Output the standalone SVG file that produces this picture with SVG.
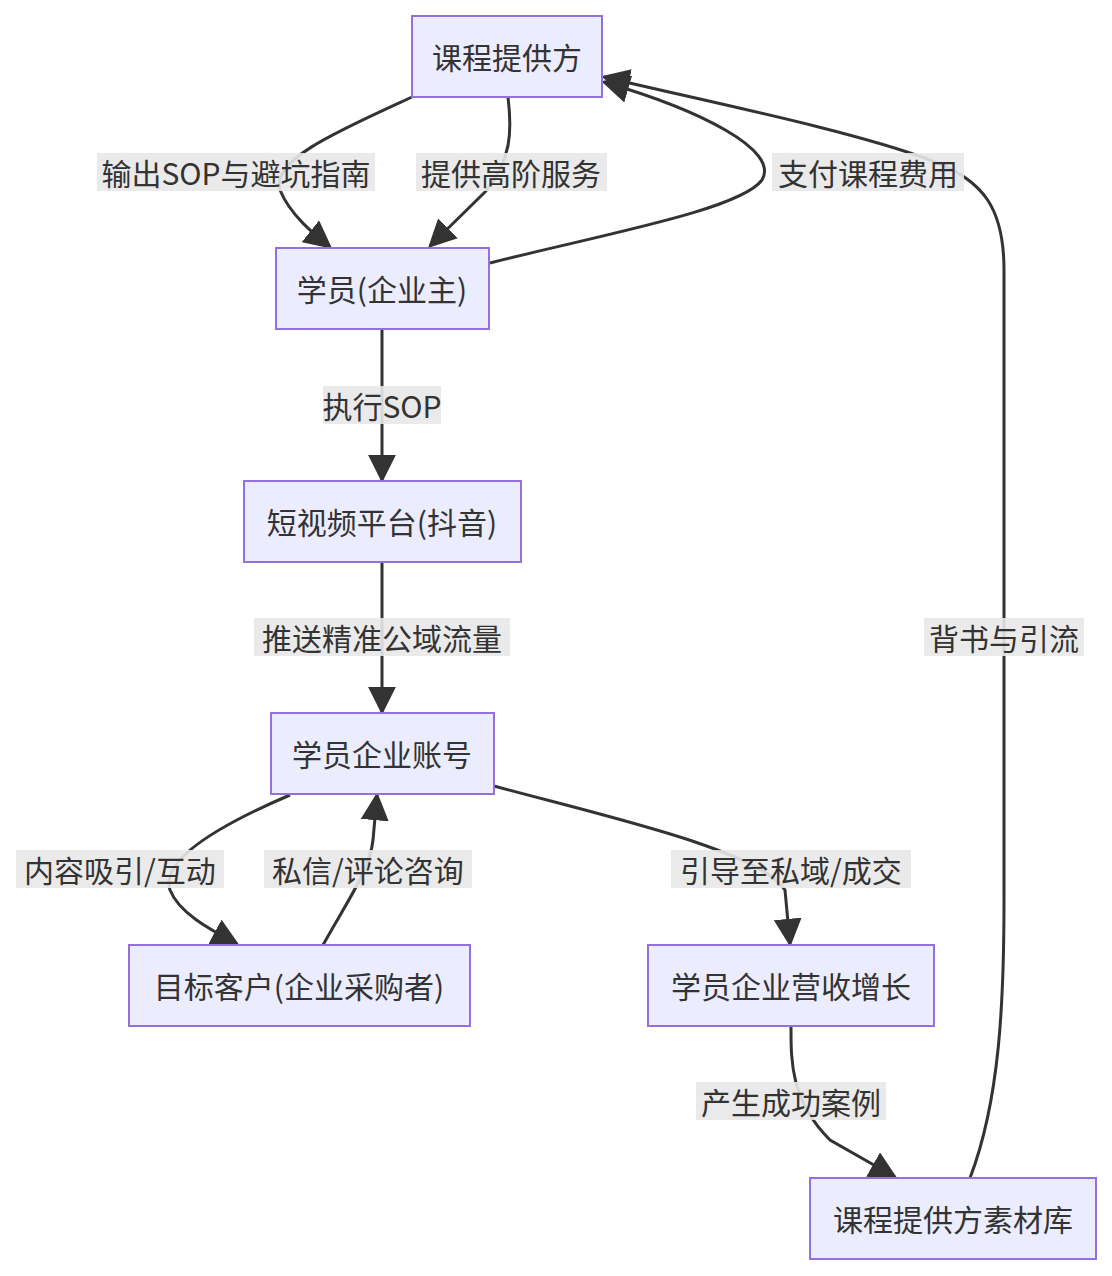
<svg xmlns="http://www.w3.org/2000/svg" width="1112" height="1276" viewBox="0 0 1112 1276">
<style>
.n rect{fill:#ECECFF;stroke:#9370DB;stroke-width:2}
.n text,.l text{font-family:"Noto Sans CJK SC","Noto Sans",sans-serif;font-size:30px;fill:#333;text-anchor:middle;dominant-baseline:central}
.e path{fill:none;stroke:#333;stroke-width:3}
.l rect{fill:#e8e8e8;opacity:0.9}
</style>
<defs><marker id="a" viewBox="0 0 10 10" refX="8" refY="5" markerWidth="9" markerHeight="9" markerUnits="userSpaceOnUse" orient="auto"><path d="M0,0L10,5L0,10z" fill="#333"/></marker>
<marker id="b" viewBox="0 0 10 10" refX="9" refY="5" markerWidth="28" markerHeight="28" markerUnits="userSpaceOnUse" orient="auto"><path d="M0,0L10,5L0,10z" fill="#333"/></marker></defs>
<rect width="1112" height="1276" fill="#fff"/>
<g class="e">
<path marker-end="url(#b)" d="M412,97 C340,130 270,160 280,190 C290,215 315,235 330,247"/>
<path marker-end="url(#b)" d="M508,97 C512,130 512,160 485,192 L430,246"/>
<path marker-end="url(#b)" d="M490,263 C600,235 740,210 762,180 C780,150 700,110 604,82"/>
<path marker-end="url(#b)" d="M970,1178 C1000,1100 1004,1000 1004,900 L1004,270 C1004,210 985,180 930,160 C850,130 700,100 604,77"/>
<path marker-end="url(#b)" d="M382,329 L382,480"/>
<path marker-end="url(#b)" d="M382,562 L382,712"/>
<path marker-end="url(#b)" d="M290,795 C220,825 160,860 170,890 C180,915 215,932 237,944"/>
<path marker-end="url(#b)" d="M323,945 C345,905 370,870 373,840 L377,795"/>
<path marker-end="url(#b)" d="M494,786 C600,815 760,850 785,890 L790,944"/>
<path marker-end="url(#b)" d="M791,1026 C791,1060 790,1100 830,1140 L895,1177"/>
</g>
<g class="l">
<rect x="97" y="153" width="278" height="38"/><text x="236" y="172">输出SOP与避坑指南</text>
<rect x="416" y="153" width="191" height="38"/><text x="511" y="172">提供高阶服务</text>
<rect x="772" y="153" width="192" height="38"/><text x="868" y="172">支付课程费用</text>
<rect x="924" y="618" width="160" height="38"/><text x="1004" y="637">背书与引流</text>
<rect x="323" y="386" width="118" height="38"/><text x="382" y="405">执行SOP</text>
<rect x="254" y="618" width="256" height="38"/><text x="382" y="637">推送精准公域流量</text>
<rect x="16" y="850" width="208" height="38"/><text x="120" y="869">内容吸引/互动</text>
<rect x="264" y="850" width="208" height="38"/><text x="368" y="869">私信/评论咨询</text>
<rect x="671" y="850" width="240" height="38"/><text x="791" y="869">引导至私域/成交</text>
<rect x="696" y="1082" width="190" height="38"/><text x="791" y="1101">产生成功案例</text>
</g>
<g id="A" class="n"><rect x="412" y="16" width="190" height="81"/><text x="507" y="56">课程提供方</text></g>
<g id="B" class="n"><rect x="276" y="248" width="213" height="81"/><text x="382" y="288">学员(企业主)</text></g>
<g id="C" class="n"><rect x="244" y="481" width="277" height="81"/><text x="382" y="521">短视频平台(抖音)</text></g>
<g id="D" class="n"><rect x="271" y="713" width="223" height="81"/><text x="382" y="753">学员企业账号</text></g>
<g id="E" class="n"><rect x="129" y="945" width="341" height="81"/><text x="299" y="985">目标客户(企业采购者)</text></g>
<g id="F" class="n"><rect x="648" y="945" width="286" height="81"/><text x="791" y="985">学员企业营收增长</text></g>
<g id="G" class="n"><rect x="810" y="1178" width="286" height="81"/><text x="953" y="1218">课程提供方素材库</text></g>
</svg>
